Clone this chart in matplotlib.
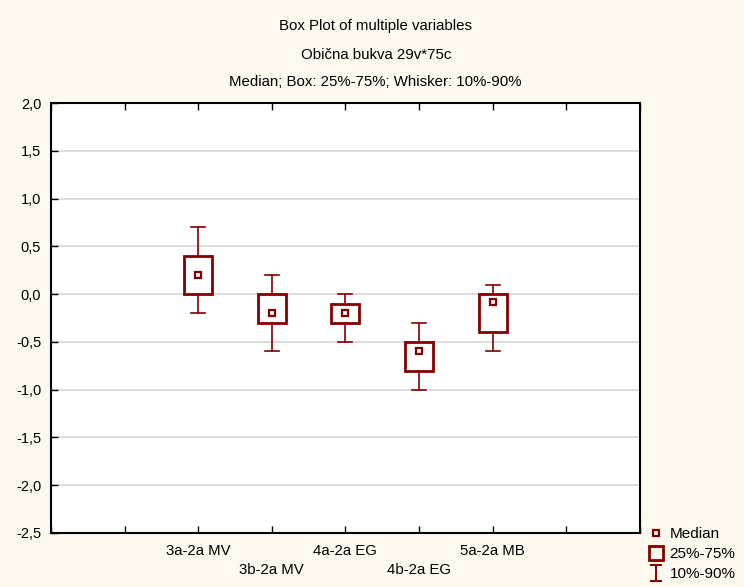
import matplotlib
matplotlib.use("Agg")
from matplotlib import pyplot as plt
from matplotlib.lines import Line2D
from matplotlib.path import Path

# data
variables = ["3a-2a MV", "3b-2a MV", "4a-2a EG", "4b-2a EG", "5a-2a MB"]
medians = [0.2, -0.2, -0.2, -0.6, -0.08]
q25 = [0.0, -0.3, -0.3, -0.8, -0.4]
q75 = [0.4, 0.0, -0.1, -0.5, 0.0]
p10 = [-0.2, -0.6, -0.5, -1.0, -0.6]
p90 = [0.7, 0.2, 0.0, -0.3, 0.1]
yticks = [-2.5, -2.0, -1.5, -1.0, -0.5, 0.0, 0.5, 1.0, 1.5, 2.0]

red = "#820000"
bg = "#fdf9ef"
plt.rcParams["font.family"] = ["Liberation Sans", "DejaVu Sans"]

fig = plt.figure(figsize=(7.44, 5.87), dpi=100, facecolor=bg)
ax = fig.add_axes([0.0685, 0.092, 0.7915, 0.7325])
ax.set_facecolor("white")

positions = list(range(2, 2 + len(variables)))
stats = []
for i in range(len(variables)):
    stats.append({"med": medians[i], "q1": q25[i], "q3": q75[i],
                  "whislo": p10[i], "whishi": p90[i], "fliers": []})

ax.bxp(stats, positions=positions, widths=0.38, capwidths=0.19,
       showfliers=False, patch_artist=True,
       boxprops=dict(facecolor="white", edgecolor=red, linewidth=2.0),
       whiskerprops=dict(color=red, linewidth=1.2),
       capprops=dict(color=red, linewidth=1.2),
       medianprops=dict(linestyle="none"), zorder=3)
ax.plot(positions, medians, linestyle="none", marker="s", markersize=5,
        markerfacecolor="white", markeredgecolor=red, markeredgewidth=1.6, zorder=4)

ax.set_xlim(0, 8)
ax.set_ylim(-2.5, 2.0)
ax.set_yticks(yticks)
ax.set_yticklabels([f"{v:.1f}".replace(".", ",") for v in yticks])
ax.yaxis.grid(True, color="#d9d9d9", linewidth=1.3)
ax.set_axisbelow(True)

xlabels = [""] * 9
for i, name in enumerate(variables):
    xlabels[positions[i]] = name if i % 2 == 0 else "\n" + name
ax.set_xticks(range(9))
ax.set_xticklabels(xlabels, fontsize=10.8, linespacing=1.45)
ax.tick_params(axis="x", direction="in", top=True, length=5, width=1, pad=8)
ax.tick_params(axis="y", direction="in", length=5, width=1, labelsize=10.5, pad=7)
for s in ax.spines.values():
    s.set_linewidth(1.5)
    s.set_color("black")

fig.text(0.505, 0.956, "Box Plot of multiple variables", ha="center", va="center",
         fontsize=10.8)
fig.text(0.505, 0.906, "Obična bukva 29v*75c", ha="center", va="center",
         fontsize=10.8)
fig.text(0.505, 0.860, "Median; Box: 25%-75%; Whisker: 10%-90%", ha="center",
         va="center", fontsize=10.8)

whisker_marker = Path([(-0.75, 1), (0.75, 1), (0, 1), (0, -1), (-0.75, -1), (0.75, -1)],
                      [Path.MOVETO, Path.LINETO, Path.MOVETO, Path.LINETO,
                       Path.MOVETO, Path.LINETO])
handles = [
    Line2D([], [], linestyle="none", marker="s", markersize=4.5, markerfacecolor="none",
           markeredgecolor=red, markeredgewidth=1.6),
    Line2D([], [], linestyle="none", marker="s", markersize=9.5, markerfacecolor="none",
           markeredgecolor=red, markeredgewidth=2.0),
    Line2D([], [], linestyle="none", marker=whisker_marker, markersize=11.5,
           markerfacecolor="none", markeredgecolor=red, markeredgewidth=1.4),
]
fig.legend(handles, ["Median", "25%-75%", "10%-90%"], loc="upper left",
           bbox_to_anchor=(0.872, 0.102), frameon=False, fontsize=11,
           handlelength=1.0, handletextpad=0.35, labelspacing=0.4,
           borderaxespad=0, borderpad=0)

plt.savefig("out.png", dpi=100, facecolor=bg)
